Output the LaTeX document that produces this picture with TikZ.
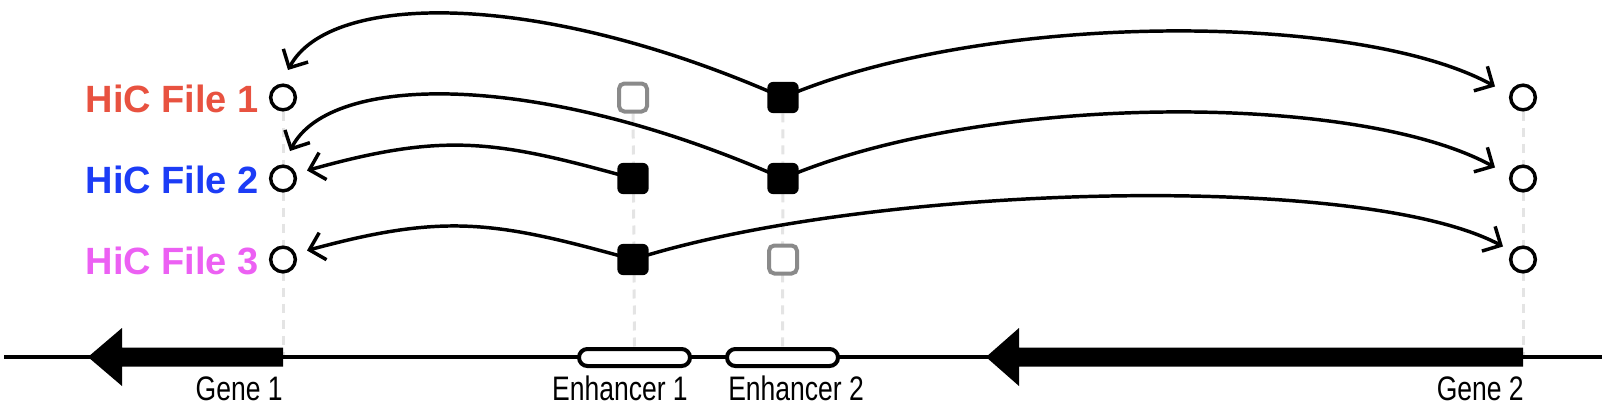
\documentclass[tikz,border=0pt]{standalone}
\usepackage{fontspec}
\setmainfont{Liberation Sans}
\newfontfamily\narrowfont[FakeStretch=0.78]{Liberation Sans}
\usetikzlibrary{arrows.meta,backgrounds,calc}
\definecolor{hicred}{RGB}{232,82,64}
\definecolor{hicblue}{RGB}{28,60,246}
\definecolor{hicpink}{RGB}{236,96,243}
\definecolor{sqgrey}{RGB}{138,138,138}
\definecolor{guidegrey}{RGB}{228,228,228}
\begin{document}
\begin{tikzpicture}[x=0.75pt,y=-0.75pt,
  opencirc/.style={circle,draw=black,fill=white,line width=2.6pt,inner sep=0pt,minimum size=18.5pt},
  fullsq/.style={rectangle,fill=black,rounded corners=4.5pt,inner sep=0pt,minimum size=23.5pt},
  greysq/.style={rectangle,draw=sqgrey,fill=white,line width=3pt,rounded corners=4pt,inner sep=0pt,minimum size=21pt},
  enhbox/.style={rectangle,draw=black,fill=white,line width=3pt,rounded corners=6.3pt,inner sep=0pt,minimum width=83.25pt,minimum height=12.75pt},
  guide/.style={draw=guidegrey,line width=2.25pt,dash pattern=on 6.75pt off 5.25pt},
  link/.style={draw=black,line width=2.6pt,-{Straight Barb[length=10.5pt,width=21pt]}},
  hiclab/.style={anchor=east,inner sep=0pt,font=\fontsize{28.5pt}{32pt}\selectfont\bfseries},
  featlab/.style={inner sep=0pt,font=\narrowfont\fontsize{25.5pt}{30pt}\selectfont},
  genebody/.style={fill=black,draw=none},
]
\useasboundingbox (0,0) rectangle (1608,410);

% labels
\node[hiclab,text=hicred]  (h1) at (259,98.5)  {HiC File 1};
\node[hiclab,text=hicblue] (h2) at (259,179.5) {HiC File 2};
\node[hiclab,text=hicpink] (h3) at (259,260.5) {HiC File 3};

% left and right circles
\node[opencirc] (a1) at (283,97.5) {};
\node[opencirc] (a2) at (283,178.5) {};
\node[opencirc] (a3) at (283,259.5) {};
\node[opencirc] (c1) at (1523,97.5) {};
\node[opencirc] (c2) at (1523,178.5) {};
\node[opencirc] (c3) at (1523,259.5) {};

% enhancer 1 column
\node[greysq] (g1) at (633,97.5) {};
\node[fullsq] (s21) at (633,178.5) {};
\node[fullsq] (s31) at (633,259.5) {};
% enhancer 2 column
\node[fullsq] (s11) at (783,97.5) {};
\node[fullsq] (s22) at (783,178.5) {};
\node[greysq] (g2) at (783,259.5) {};

% enhancers
\node[enhbox] (e1) at (634.5,357.5) {};
\node[enhbox] (e2) at (782.5,357.5) {};

% gene anchor points
\coordinate (gene1end) at (283,357);
\coordinate (gene2end) at (1523,357);
\coordinate (lineL) at (4,357);
\coordinate (lineR) at (1602,357);

\begin{scope}[on background layer]
  % guides
  \draw[guide] (a1) -- (gene1end);
  \draw[guide] (c1) -- (gene2end);
  \draw[guide] (g1) -- (e1.north);
  \draw[guide] (s11) -- (e2.north);
  % baseline
  \draw[line width=3pt] (lineL) -- (lineR);
  % links
  \draw[link] (s11.center) .. controls (540,-10) and (330,-9) .. ($(a1)+(5,-27.5)$);
  \draw[link] (s11.center) .. controls (988,10) and (1360,12) .. ($(c1)+(-28,-11)$);
  \draw[link] (s22.center) .. controls (540,71) and (330,72) .. ($(a2)+(7,-27.5)$);
  \draw[link] (s22.center) .. controls (988,91) and (1360,93) .. ($(c2)+(-28,-11)$);
  \draw[link] (s21.center) .. controls (495,140) and (445,132) .. ($(a2)+(24,-8)$);
  \draw[link] (s31.center) .. controls (495,221) and (445,213) .. ($(a3)+(24,-9)$);
  \draw[link] (s31.center) .. controls (870,184) and (1362,171) .. ($(c3)+(-20,-13)$);
\end{scope}

% genes
\fill[genebody] (gene1end) ++(0,-9.5) -- (122,347.5) -- (122,328) -- (88,357) -- (122,386) -- (122,366.5) -- (283,366.5) -- cycle;
\fill[genebody] (gene2end) ++(0,-9.5) -- (1019,347.5) -- (1019,328) -- (986,357) -- (1019,386) -- (1019,366.5) -- (1523,366.5) -- cycle;

% feature labels
\node[featlab,anchor=base east] (l1) at (283,400) {Gene 1};
\node[featlab,anchor=base east] (l2) at (688,400) {Enhancer 1};
\node[featlab,anchor=base west] (l3) at (728,400) {Enhancer 2};
\node[featlab,anchor=base east] (l4) at (1524,400) {Gene 2};
\end{tikzpicture}
\end{document}
